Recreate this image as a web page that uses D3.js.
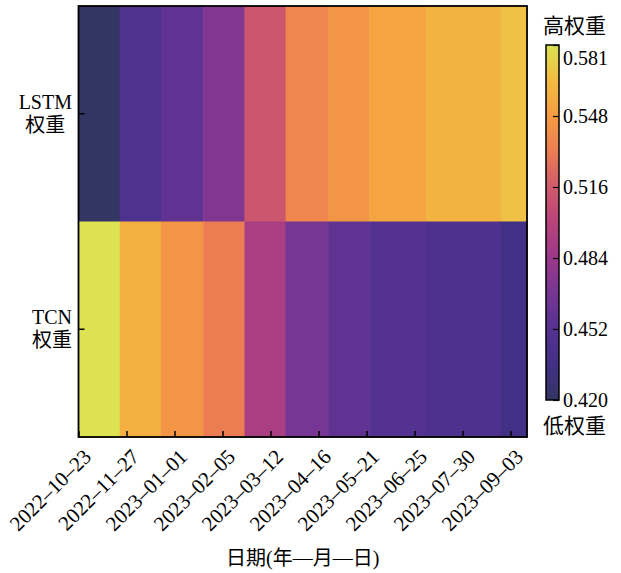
<!DOCTYPE html>
<html>
<head>
<meta charset="utf-8">
<script src="https://cdn.jsdelivr.net/npm/d3@7"></script>
<style>
body { margin: 0; background: #fff; }
text { font-family: "Liberation Serif", "Noto Sans CJK SC", serif; fill: #000; }
</style>
</head>
<body>
<div id="chart"></div>
<script>
// data
var rowNames = [["LSTM", "权重"], ["TCN", "权重"]];
// start dates of the heatmap columns, last entry = end of axis
var colEdges = ["2022-10-23", "2022-11-22", "2022-12-22", "2023-01-22", "2023-02-21",
    "2023-03-23", "2023-04-23", "2023-05-23", "2023-07-03", "2023-08-27", "2023-09-15"];
var lstmWeight = [0.4195, 0.447, 0.457, 0.473, 0.513, 0.537, 0.545, 0.553, 0.560, 0.567];
var tcnWeight = [0.5805, 0.558, 0.545, 0.532, 0.492, 0.468, 0.457, 0.450, 0.446, 0.436];
var tickDates = ["2022-10-23", "2022-11-27", "2023-01-01", "2023-02-05", "2023-03-12",
    "2023-04-16", "2023-05-21", "2023-06-25", "2023-07-30", "2023-09-03"];
var cbarLabels = ["0.420", "0.452", "0.484", "0.516", "0.548", "0.581"];
var wMin = 0.4195, wMax = 0.5805;

// colour map (plasma-like, as printed)
var cmapT = [0, 0.1, 0.2, 0.3, 0.4, 0.5, 0.6, 0.7, 0.8, 0.9, 1];
var cmapColors = ["#333562", "#423086", "#553292", "#773594", "#9b3889", "#b9437b",
    "#d05a6b", "#ec7c52", "#f49c42", "#f3bb41", "#dce251"];

var W = 621, H = 573;
var plot = { left: 78.5, top: 6, right: 527, bottom: 437 };

var parse = d3.utcParse("%Y-%m-%d");
var fmtLabel = function(d) { return d3.utcFormat("%Y–%m–%d")(d); };

var svg = d3.select("#chart").append("svg")
    .attr("width", W)
    .attr("height", H);

var x = d3.scaleUtc()
    .domain([parse(colEdges[0]), parse(colEdges[colEdges.length - 1])])
    .range([plot.left, plot.right]);

var y = d3.scaleBand()
    .domain([0, 1])
    .range([plot.top, plot.bottom]);

var tScale = d3.scaleLinear().domain([wMin, wMax]).range([0, 1]);
var color = d3.scaleLinear().domain(cmapT).range(cmapColors).interpolate(d3.interpolateRgb);
var colorOf = function(v) { return color(tScale(v)); };

// cells
var cells = [];
[lstmWeight, tcnWeight].forEach(function(series, r) {
    series.forEach(function(v, i) {
        cells.push({ row: r, x0: parse(colEdges[i]), x1: parse(colEdges[i + 1]), v: v });
    });
});

svg.append("g").selectAll("rect")
    .data(cells).enter().append("rect")
    .attr("x", d => x(d.x0))
    .attr("y", d => y(d.row))
    .attr("width", d => x(d.x1) - x(d.x0) + 0.5)
    .attr("height", y.bandwidth() + 0.5)
    .attr("fill", d => colorOf(d.v));

// x ticks (inward)
var xAxis = svg.append("g")
    .attr("transform", "translate(0," + plot.bottom + ")")
    .call(d3.axisBottom(x).tickValues(tickDates.map(parse)).tickSize(-6).tickFormat(""));
xAxis.select(".domain").remove();
xAxis.selectAll("line").attr("stroke", "#000").attr("stroke-width", 1.5);

svg.append("g").selectAll("text")
    .data(tickDates.map(parse)).enter().append("text")
    .attr("transform", d => "translate(" + (x(d) + 14) + "," + (plot.bottom + 21) + ") rotate(-45)")
    .attr("text-anchor", "end")
    .style("font-size", "21px")
    .text(fmtLabel);

// y ticks (inward)
var yAxis = svg.append("g")
    .attr("transform", "translate(" + plot.left + ",0)")
    .call(d3.axisLeft(y).tickSize(-6).tickFormat(""));
yAxis.select(".domain").remove();
yAxis.selectAll("line").attr("stroke", "#000").attr("stroke-width", 1.5);

// y labels: two lines, block right-aligned, lines centred
rowNames.forEach(function(lines, r) {
    var cy = y(r) + y.bandwidth() / 2;
    var g = svg.append("g");
    var ts = lines.map(function(s, k) {
        return g.append("text")
            .attr("y", cy - 5 + k * 23)
            .attr("text-anchor", "middle")
            .style("font-size", "20px")
            .text(s);
    });
    var bw = d3.max(ts, t => t.node().getComputedTextLength());
    ts.forEach(t => t.attr("x", 72 - bw / 2));
});

// frame
svg.append("rect")
    .attr("x", plot.left)
    .attr("y", plot.top)
    .attr("width", plot.right - plot.left)
    .attr("height", plot.bottom - plot.top)
    .attr("fill", "none")
    .attr("stroke", "#000")
    .attr("stroke-width", 1.8);

// x title
svg.append("text")
    .attr("x", (plot.left + plot.right) / 2)
    .attr("y", 565)
    .attr("text-anchor", "middle")
    .style("font-size", "20px")
    .text("日期(年—月—日)");

// colour bar
var cb = { x: 546, w: 13, top: 45, bottom: 400 };
var defs = svg.append("defs");
var grad = defs.append("linearGradient")
    .attr("id", "cbar")
    .attr("x1", 0).attr("y1", 1).attr("x2", 0).attr("y2", 0);
grad.selectAll("stop")
    .data(cmapT).enter().append("stop")
    .attr("offset", d => d)
    .attr("stop-color", (d, i) => cmapColors[i]);

var cy = d3.scaleLinear().domain([wMin, wMax]).range([cb.bottom, cb.top]);
svg.append("rect")
    .attr("x", cb.x).attr("y", cb.top)
    .attr("width", cb.w).attr("height", cb.bottom - cb.top)
    .attr("fill", "url(#cbar)")
    .attr("stroke", "#000")
    .attr("stroke-width", 1.5);

var cbTicks = d3.range(cbarLabels.length).map(i => wMin + i * (wMax - wMin) / (cbarLabels.length - 1));
var cAxis = svg.append("g")
    .attr("transform", "translate(" + (cb.x + cb.w) + ",0)")
    .call(d3.axisRight(cy).tickValues(cbTicks).tickSize(-6).tickPadding(10)
        .tickFormat((d, i) => cbarLabels[i]));
cAxis.select(".domain").remove();
cAxis.selectAll("line").attr("stroke", "#000").attr("stroke-width", 1.2);
cAxis.selectAll("text")
    .attr("font-family", null)
    .attr("font-size", null)
    .style("font-size", "20px")
    .attr("x", 4)
    .attr("dy", (d, i) => i === cbarLabels.length - 1 ? "0.95em" : "0.32em");

svg.append("text")
    .attr("x", 543).attr("y", 33)
    .style("font-size", "21px")
    .text("高权重");
svg.append("text")
    .attr("x", 543).attr("y", 433)
    .style("font-size", "21px")
    .text("低权重");
</script>
</body>
</html>
